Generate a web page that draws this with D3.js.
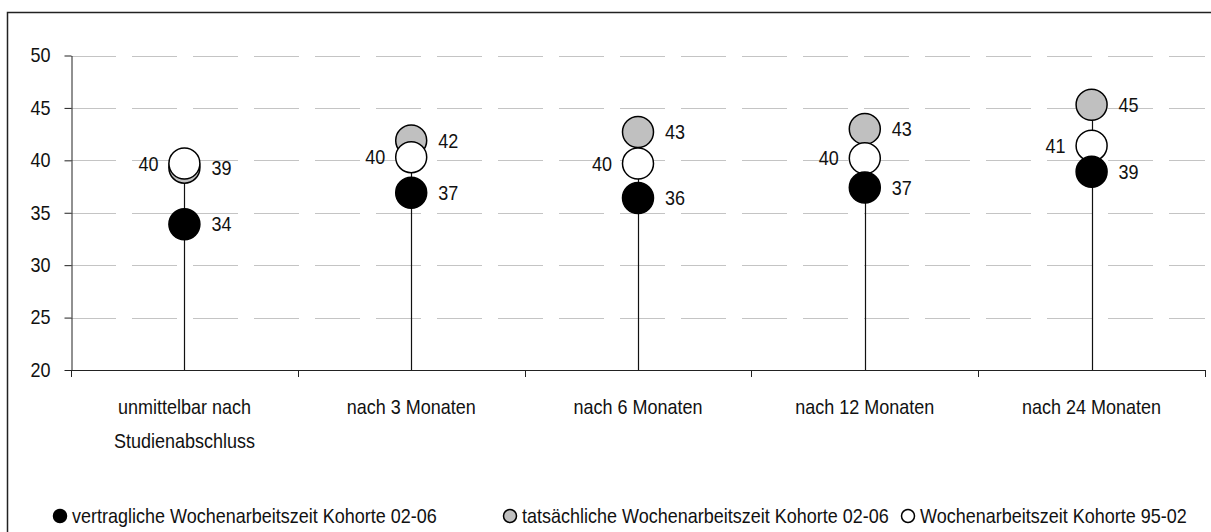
<!DOCTYPE html>
<html>
<head>
<meta charset="utf-8">
<script src="https://cdn.jsdelivr.net/npm/d3@7"></script>
<style>
  body { margin: 0; background: #fff; }
  svg { display: block; }
  text { font-family: "Liberation Sans", Arial, sans-serif; fill: #111; }
</style>
</head>
<body>
<div id="chart"></div>
<script>
// categories on the x axis (second line of label after "|")
const categories = ["unmittelbar nach|Studienabschluss", "nach 3 Monaten", "nach 6 Monaten", "nach 12 Monaten", "nach 24 Monaten"];

// mean weekly hours per series
const vertraglich0206 = [33.9, 36.9, 36.4, 37.4, 38.9];
const tatsaechlich0206 = [39.3, 41.9, 42.7, 43.0, 45.3];
const kohorte9502 = [39.7, 40.3, 39.7, 40.2, 41.4];

const yTicks = [20, 25, 30, 35, 40, 45, 50];

const seriesNames = [
  "vertragliche Wochenarbeitszeit Kohorte 02-06",
  "tatsächliche Wochenarbeitszeit Kohorte 02-06",
  "Wochenarbeitszeit Kohorte 95-02"
];

var width = 1211, height = 532;
var fontSize = "20px";
var K = 0.9; // horizontal squeeze, the source uses a narrow typeface

// turn x/y of a text into a transform so it can be narrowed
function squeeze(sel) {
  sel.each(function() {
    var t = d3.select(this);
    var tx = +t.attr("x") || 0, ty = +t.attr("y") || 0;
    t.attr("x", 0).attr("y", 0)
      .attr("transform", "translate(" + tx + "," + ty + ") scale(" + K + ",1)");
  });
}

var svg = d3.select("#chart").append("svg")
  .attr("width", width)
  .attr("height", height);

// outer frame (runs past the right and bottom edges like in the source)
svg.append("rect")
  .attr("x", 7.5).attr("y", 12.5)
  .attr("width", 1300).attr("height", 600)
  .attr("fill", "none")
  .attr("stroke", "#222")
  .attr("stroke-width", 1.5);

var x = d3.scaleBand().domain(categories).range([71, 1205]);
var y = d3.scaleLinear().domain([20, 50]).range([370, 55.5]);

// dashed grid lines
svg.selectAll(".grid")
  .data(yTicks.filter(d => d > 20))
  .enter().append("line")
  .attr("x1", 71).attr("x2", 1205)
  .attr("y1", d => Math.round(y(d)) + 0.5)
  .attr("y2", d => Math.round(y(d)) + 0.5)
  .attr("stroke", "#c4c4c4")
  .attr("stroke-width", 1)
  .attr("stroke-dasharray", "45,16");

// y axis
var yAxis = svg.append("g")
  .attr("transform", "translate(71.5,0)")
  .call(d3.axisLeft(y).tickValues(yTicks).tickSize(7).tickPadding(14).tickSizeOuter(0));
yAxis.select(".domain").attr("stroke", "#222");
yAxis.selectAll(".tick line").attr("stroke", "#222");
yAxis.selectAll(".tick text")
  .style("font-size", fontSize)
  .attr("fill", "#111")
  .call(squeeze);
yAxis.attr("font-family", null).attr("font-size", null);

// x axis line and boundary ticks
svg.append("line")
  .attr("x1", 71).attr("x2", 1205)
  .attr("y1", 370.5).attr("y2", 370.5)
  .attr("stroke", "#222");

var bounds = categories.map(c => x(c)).concat([x.range()[1]]);
svg.selectAll(".xtick")
  .data(bounds)
  .enter().append("line")
  .attr("x1", d => Math.round(d) + 0.5).attr("x2", d => Math.round(d) + 0.5)
  .attr("y1", 370).attr("y2", 377)
  .attr("stroke", "#222");

var cx = c => x(c) + x.bandwidth() / 2;

// category labels, one text per line
var labelLines = [];
categories.forEach(function(c) {
  c.split("|").forEach(function(l, i) {
    labelLines.push({ cat: c, text: l, line: i });
  });
});
svg.selectAll(".xlabel")
  .data(labelLines)
  .enter().append("text")
  .attr("text-anchor", "middle")
  .style("font-size", fontSize)
  .attr("x", d => cx(d.cat))
  .attr("y", d => 414 + d.line * 34)
  .text(d => d.text)
  .call(squeeze);

// one group per category
var rows = categories.map(function(c, i) {
  return {
    cat: c,
    vals: [vertraglich0206[i], tatsaechlich0206[i], kohorte9502[i]]
  };
});

// stems from baseline to highest point
svg.selectAll(".stem")
  .data(rows)
  .enter().append("line")
  .attr("x1", d => Math.round(cx(d.cat)) + 0.5)
  .attr("x2", d => Math.round(cx(d.cat)) + 0.5)
  .attr("y1", y(20))
  .attr("y2", d => y(d3.max(d.vals)))
  .attr("stroke", "#111")
  .attr("stroke-width", 1.2);

var fills = ["#000000", "#c0c0c0", "#ffffff"];
var drawOrder = [1, 2, 0]; // gray below white below black
var r = 15.5;

drawOrder.forEach(function(s) {
  svg.selectAll(".dot" + s)
    .data(rows)
    .enter().append("circle")
    .attr("cx", d => cx(d.cat))
    .attr("cy", d => y(d.vals[s]))
    .attr("r", r)
    .attr("fill", fills[s])
    .attr("stroke", "#000")
    .attr("stroke-width", 1.5);
});

// value labels: series 0 and 1 right of the dot, series 2 left
[0, 1, 2].forEach(function(s) {
  svg.selectAll(".lab" + s)
    .data(rows)
    .enter().append("text")
    .attr("x", d => s === 2 ? cx(d.cat) - 26 : cx(d.cat) + 27)
    .attr("y", d => y(d.vals[s]))
    .attr("dy", "0.36em")
    .attr("text-anchor", s === 2 ? "end" : "start")
    .style("font-size", fontSize)
    .text(d => Math.round(d.vals[s]))
    .call(squeeze);
});

// legend
var legendX = [60, 510, 908];
var legend = svg.selectAll(".legend")
  .data(seriesNames)
  .enter().append("g")
  .attr("transform", (d, i) => "translate(" + legendX[i] + ",516)");

legend.append("circle")
  .attr("r", 6.5)
  .attr("fill", (d, i) => fills[i])
  .attr("stroke", "#000")
  .attr("stroke-width", 1.5);

legend.append("text")
  .attr("x", 12)
  .attr("dy", "0.36em")
  .style("font-size", fontSize)
  .text(d => d)
  .call(squeeze);
</script>
</body>
</html>
